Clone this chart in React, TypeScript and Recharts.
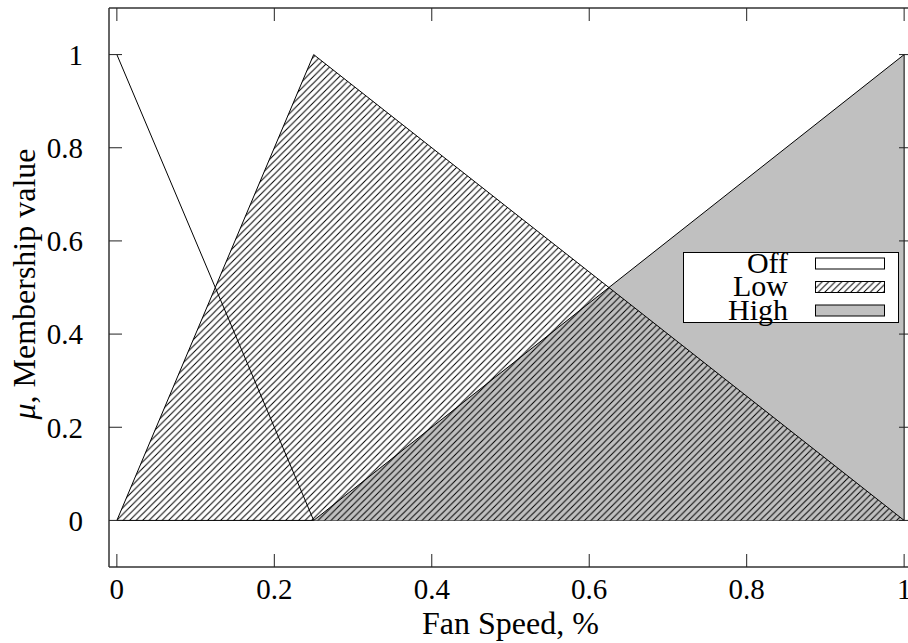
import { Area, AreaChart, Legend, XAxis, YAxis } from "recharts";

// membership functions, sampled at their corners
const fanSpeed = [0, 0.25, 0.625, 1, 1];
const offValues = [1, 0, 0, 0, 0];
const lowValues = [0, 1, 0.5, 0, 0];
const highValues = [0, 0, 0.5, 1, 0];

const xTicks = [0, 0.2, 0.4, 0.6, 0.8, 1];
const yTicks = [0, 0.2, 0.4, 0.6, 0.8, 1];
const seriesNames = ["Off", "Low", "High"];
const xLabel = "Fan Speed, %";
const yLabelSymbol = "μ";
const yLabelText = ", Membership value";

const data = fanSpeed.map((x, i) => ({
  x,
  off: offValues[i],
  low: lowValues[i],
  high: highValues[i],
}));

const GRAY = "#c0c0c0";
const FONT = '"Liberation Serif", "Times New Roman", serif';
const frame = { stroke: "#333", strokeWidth: 1.5 };
const tickStyle = { stroke: "#222", strokeWidth: 1 };
const tickFont = { fill: "#000", fontSize: 29, fontFamily: FONT };

function Hatch({ id }: { id: string }) {
  const s = 6.5;
  return (
    <pattern id={id} patternUnits="userSpaceOnUse" width={s} height={s}>
      <path
        d={`M0,${s} L${s},0 M${-s / 2},${s / 2} L${s / 2},${-s / 2} M${s / 2},${s * 1.5} L${s * 1.5},${s / 2}`}
        stroke="#000"
        strokeWidth={1}
      />
    </pattern>
  );
}

const legendFills = ["#fff", "url(#hatchLegend)", GRAY];

function FanLegend() {
  return (
    <svg
      width={216}
      height={71}
      overflow="visible"
      style={{ display: "block", overflow: "visible", fontFamily: FONT }}
    >
      <defs>
        <Hatch id="hatchLegend" />
      </defs>
      <rect x={0.5} y={0.5} width={215} height={70} fill="#fff" stroke="#000" />
      {seriesNames.map((name, i) => {
        const cy = 11.5 + 23.5 * i;
        return (
          <g key={name}>
            <text x={105} y={cy + 9} textAnchor="end" fontSize={30} fill="#000">
              {name}
            </text>
            <rect
              x={132.5}
              y={cy - 5.5}
              width={69}
              height={11}
              fill={legendFills[i]}
              stroke="#000"
              strokeWidth={1}
            />
          </g>
        );
      })}
    </svg>
  );
}

export default function App() {
  return (
    <div
      style={{
        position: "absolute",
        left: 0,
        top: 0,
        width: 908,
        height: 643,
        overflow: "hidden",
        background: "#fff",
        fontFamily: FONT,
      }}
    >
      <AreaChart
        width={920}
        height={643}
        data={data}
        margin={{ top: 7, right: 7, left: 0, bottom: 0 }}
      >
        <defs>
          <Hatch id="hatchLow" />
        </defs>
        <XAxis
          xAxisId="b"
          dataKey="x"
          type="number"
          domain={[-0.01, 1.01]}
          ticks={xTicks}
          height={76}
          tickSize={-13}
          tickMargin={24}
          tick={tickFont}
          axisLine={frame}
          tickLine={tickStyle}
          allowDataOverflow
          label={{
            value: xLabel,
            position: "insideBottom",
            offset: 9,
            fill: "#000",
            fontSize: 32,
            fontFamily: FONT,
          }}
        />
        <XAxis
          xAxisId="t"
          dataKey="x"
          type="number"
          orientation="top"
          domain={[-0.01, 1.01]}
          ticks={xTicks}
          height={1}
          tickSize={-13}
          tick={() => <g />}
          axisLine={frame}
          tickLine={tickStyle}
          allowDataOverflow
        />
        <YAxis
          yAxisId="l"
          type="number"
          domain={[-0.1, 1.1]}
          ticks={yTicks}
          width={109}
          tickSize={-13}
          tickMargin={39}
          tick={tickFont}
          axisLine={frame}
          tickLine={tickStyle}
          allowDataOverflow
          label={{
            content: () => (
              <text
                x={35}
                y={284}
                transform="rotate(-90, 35, 284)"
                textAnchor="middle"
                fontSize={32}
                fill="#000"
                fontFamily={FONT}
              >
                <tspan fontStyle="italic">{yLabelSymbol}</tspan>
                <tspan>{yLabelText}</tspan>
              </text>
            ),
          }}
        />
        <YAxis
          yAxisId="r"
          type="number"
          orientation="right"
          domain={[-0.1, 1.1]}
          ticks={yTicks}
          width={1}
          tickSize={-13}
          tick={() => <g />}
          axisLine={frame}
          tickLine={tickStyle}
          allowDataOverflow
        />
        <Area
          xAxisId="b"
          yAxisId="l"
          dataKey="off"
          name={seriesNames[0]}
          type="linear"
          baseValue={0}
          fill="#fff"
          fillOpacity={1}
          stroke="#000"
          strokeWidth={1}
          isAnimationActive={false}
        />
        <Area
          xAxisId="b"
          yAxisId="l"
          dataKey="high"
          name={seriesNames[2]}
          type="linear"
          baseValue={0}
          fill={GRAY}
          fillOpacity={1}
          stroke="#000"
          strokeWidth={1}
          isAnimationActive={false}
        />
        <Area
          xAxisId="b"
          yAxisId="l"
          dataKey="low"
          name={seriesNames[1]}
          type="linear"
          baseValue={0}
          fill="url(#hatchLow)"
          fillOpacity={1}
          stroke="#000"
          strokeWidth={1}
          isAnimationActive={false}
        />
        <Legend
          layout="horizontal"
          align="center"
          verticalAlign="middle"
          wrapperStyle={{ left: 683, top: 252, width: 216, height: 71 }}
          content={() => <FanLegend />}
        />
      </AreaChart>
    </div>
  );
}
